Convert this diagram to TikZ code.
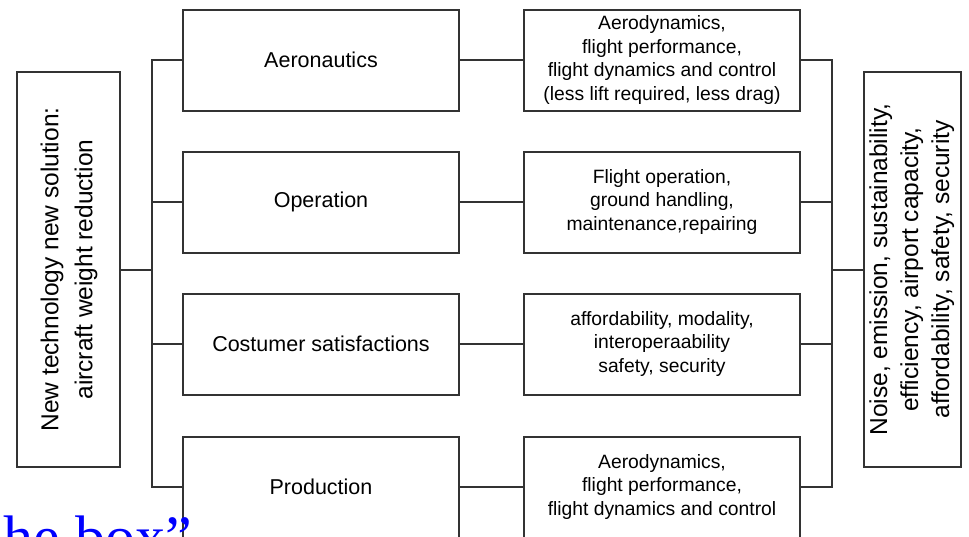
\documentclass[tikz,border=0pt]{standalone}
\usepackage{fontspec}
\usepackage{graphicx}
\setmainfont{Liberation Sans}
\newfontfamily\slidefont{Liberation Serif}
\usetikzlibrary{positioning}

\begin{document}
\begin{tikzpicture}[
    x=1pt, y=-1pt,
    % Box and line styles
    box/.style={draw=black!80, line width=2pt, outer sep=0pt, inner sep=2pt, align=center},
    areabox/.style={box, minimum width=276pt, minimum height=101pt, font=\fontsize{21.5}{26}\selectfont},
    infobox/.style={box, minimum width=276pt, minimum height=101pt, font=\fontsize{19.3}{23.5}\selectfont},
    sidebox/.style={box, minimum height=395pt, font=\fontsize{24.5}{31}\selectfont},
    link/.style={draw=black!80, line width=2pt, line cap=rect}
]

\useasboundingbox (0,0) rectangle (969,536);

% Bus lines on both sides
\coordinate (lbus) at (152,0);
\coordinate (rbus) at (832,0);

% Left: the goal
\node[sidebox, minimum width=103pt, font=\fontsize{24.5}{34}\selectfont] (goal) at (68.5,269.5)
    {\rotatebox{90}{\begin{tabular}{@{}c@{}}New technology new solution:\\aircraft weight reduction\end{tabular}}};

% Middle column: areas
\node[areabox] (aero) at (321,60) {Aeronautics};
\node[areabox, below=41pt of aero] (oper) {Operation};
\node[areabox, below=41pt of oper] (cust) {Costumer satisfactions};
\node[areabox, below=42pt of cust] (prod) {Production};

% Next column: what each area covers
\node[infobox, right=65pt of aero] (aero-info) {Aerodynamics,\\flight performance,\\flight dynamics and control\\(less lift required, less drag)};
\node[infobox, right=65pt of oper] (oper-info) {Flight operation,\\ground handling,\\maintenance,repairing};
\node[infobox, right=65pt of cust] (cust-info) {affordability, modality,\\interoperaability\\safety, security};
\node[infobox, right=65pt of prod] (prod-info) {Aerodynamics,\\flight performance,\\flight dynamics and control};

% Right: the effects
\node[sidebox, minimum width=96pt] (effects) at (912,269.5)
    {\rotatebox{90}{\begin{tabular}{@{}c@{}}Noise, emission, sustainability,\\efficiency, airport capacity,\\affordability, safety, security\end{tabular}}};

% Connectors
\draw[link] (goal.east) -- (goal.east -| lbus);
\draw[link] (aero.west -| lbus) -- (prod.west -| lbus);
\foreach \n in {aero,oper,cust,prod} {
    \draw[link] (\n.west -| lbus) -- (\n.west);
    \draw[link] (\n.east) -- (\n-info.west);
    \draw[link] (\n-info.east) -- (\n-info.east -| rbus);
}
\draw[link] (aero-info.east -| rbus) -- (prod-info.east -| rbus);
\draw[link] (effects.west -| rbus) -- (effects.west);

% Slide text running in from below
\node[font=\slidefont\fontsize{60}{60}\selectfont, text=blue, anchor=base east, inner sep=0pt] (tail) at (192,557) {he box”};

\end{tikzpicture}
\end{document}
